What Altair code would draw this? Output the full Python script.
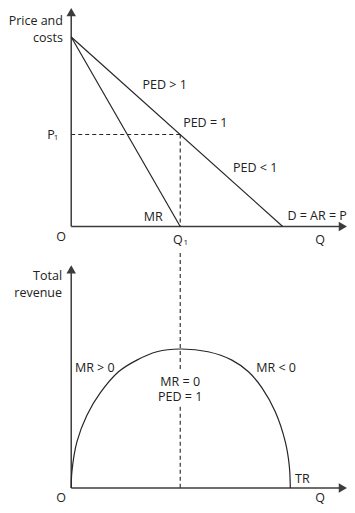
import altair as alt
import pandas as pd

# ---------------- data ----------------
# Top panel: quantity (Q) vs price and costs (P)
DEMAND_Q = [0.0, 9.7]
DEMAND_P = [10.0, 0.0]
MR_Q = [0.0, 5.0]
MR_P = [10.0, 0.0]
Q1 = 5.0
P1 = 4.85

# Bottom panel: quantity (Q) vs total revenue (TR)
TR_Q = [0.0, 0.03, 0.26, 0.72, 1.33, 2.17, 3.01, 3.93, 5.0, 6.28, 7.37, 8.13, 8.75, 9.36, 9.82, 10.0, 10.05]
TR_V = [0.0, 2.9, 8.3, 13.1, 17.1, 20.9, 23.0, 24.5, 25.0, 24.5, 23.0, 20.9, 18.0, 13.7, 8.3, 4.1, 0.0]

# Labels
TOP_LABELS = ["PED > 1", "PED = 1", "PED < 1", "MR", "D = AR = P", "O", "Q"]
TOP_LABEL_Q = [4.29, 6.15, 8.44, 3.76, 11.28, -0.46, 11.42]
TOP_LABEL_P = [7.47, 5.46, 3.09, 0.50, 0.55, -0.55, -0.71]
TOP_TITLE = ["Price and", "costs"]
TOP_TITLE_P = [10.84, 9.95]

BOT_LABELS = ["MR > 0", "MR = 0", "PED = 1", "MR < 0", "TR", "O", "Q"]
BOT_LABEL_Q = [1.08, 5.0, 5.0, 9.40, 10.60, -0.46, 11.42]
BOT_LABEL_V = [21.6, 19.06, 16.37, 21.6, 1.62, -1.80, -1.80]
BOT_TITLE = ["Total", "revenue"]
BOT_TITLE_V = [38.1, 35.07]

# ---------------- styling ----------------
FONT = "Open Sans"
FS = 12.5
TXT = "#222222"
LINE = "#262626"
AXIS = "#3c3c3c"
W, H = 339, 497

# one shared x scale; the two panels each get their own y scale spanning the view
xs = alt.Scale(domain=[-2.9, 12.65], nice=False, zero=False)
ys_top = alt.Scale(domain=[-14.7, 11.53], nice=False, zero=False)
ys_bot = alt.Scale(domain=[-3.06, 86.33], nice=False, zero=False)


def X(f="x"):
    return alt.X(f"{f}:Q", scale=xs, axis=None)


def Y(scale, f="y"):
    return alt.Y(f"{f}:Q", scale=scale, axis=None)


def rules(df, scale, **kw):
    return alt.Chart(df).mark_rule(**kw).encode(
        x=X("x"), y=Y(scale, "y"), x2="x2:Q", y2="y2:Q"
    )


def arrows(df, scale, shape):
    return alt.Chart(df).mark_point(
        shape=shape, filled=True, size=90, color=AXIS, opacity=1
    ).encode(x=X("x"), y=Y(scale, "y"))


def texts(df, scale, **kw):
    base = dict(font=FONT, fontSize=FS, color=TXT, baseline="middle")
    base.update(kw)
    return alt.Chart(df).mark_text(**base).encode(
        x=X("x"), y=Y(scale, "y"), text="t:N"
    )


# ---------------- top panel ----------------
top_axes = pd.DataFrame({"x": [0.0, 0.0], "y": [0.0, 0.0], "x2": [0.0, 12.3], "y2": [11.3, 0.0]})
top_arrow_up = pd.DataFrame({"x": [0.0], "y": [11.31]})
top_arrow_right = pd.DataFrame({"x": [12.46], "y": [0.0]})
demand = pd.DataFrame({"x": DEMAND_Q, "y": DEMAND_P})
mr = pd.DataFrame({"x": MR_Q, "y": MR_P})
top_dash = pd.DataFrame({"x": [0.0, Q1], "y": [P1, P1], "x2": [Q1, Q1], "y2": [P1, 0.0]})
top_lab = pd.DataFrame({"x": TOP_LABEL_Q, "y": TOP_LABEL_P, "t": TOP_LABELS})
top_title = pd.DataFrame({"x": [-0.38, -0.38], "y": TOP_TITLE_P, "t": TOP_TITLE})
p1_lab = pd.DataFrame({"x": [-0.93], "y": [P1], "t": ["P"]})
q1_lab = pd.DataFrame({"x": [4.89], "y": [-0.71], "t": ["Q"]})

top_layers = [
    rules(top_axes, ys_top, color=AXIS, strokeWidth=1.5),
    arrows(top_arrow_up, ys_top, "triangle-up"),
    arrows(top_arrow_right, ys_top, "triangle-right"),
    rules(top_dash, ys_top, color=LINE, strokeWidth=1.1, strokeDash=[4, 3]),
    alt.Chart(demand).mark_line(color=LINE, strokeWidth=1.2).encode(x=X(), y=Y(ys_top)),
    alt.Chart(mr).mark_line(color=LINE, strokeWidth=1.2).encode(x=X(), y=Y(ys_top)),
    texts(top_lab, ys_top, align="center"),
    texts(top_title, ys_top, align="right"),
    texts(p1_lab, ys_top, align="center"),
    texts(p1_lab.assign(t="1"), ys_top, align="center", fontSize=8, dx=5, dy=3),
    texts(q1_lab, ys_top, align="center"),
    texts(q1_lab.assign(t="1"), ys_top, align="center", fontSize=8, dx=8, dy=3),
]

# ---------------- bottom panel ----------------
bot_axes = pd.DataFrame({"x": [0.0, 0.0], "y": [0.0, 0.0], "x2": [0.0, 12.3], "y2": [39.3, 0.0]})
bot_arrow_up = pd.DataFrame({"x": [0.0], "y": [39.33]})
bot_arrow_right = pd.DataFrame({"x": [12.46], "y": [0.0]})
tr = pd.DataFrame({"x": TR_Q, "y": TR_V, "o": list(range(len(TR_Q)))})
bot_dash = pd.DataFrame({"x": [Q1, Q1], "y": [42.26, 14.6], "x2": [Q1, Q1], "y2": [21.2, 0.0]})
bot_lab = pd.DataFrame({"x": BOT_LABEL_Q, "y": BOT_LABEL_V, "t": BOT_LABELS})
bot_title = pd.DataFrame({"x": [-0.42, -0.42], "y": BOT_TITLE_V, "t": BOT_TITLE})

bot_layers = [
    rules(bot_axes, ys_bot, color=AXIS, strokeWidth=1.5),
    arrows(bot_arrow_up, ys_bot, "triangle-up"),
    arrows(bot_arrow_right, ys_bot, "triangle-right"),
    rules(bot_dash, ys_bot, color=LINE, strokeWidth=1.1, strokeDash=[4, 3]),
    alt.Chart(tr).mark_line(color=LINE, strokeWidth=1.2, interpolate="catmull-rom").encode(
        x=X(), y=Y(ys_bot), order="o:Q"
    ),
    texts(bot_lab, ys_bot, align="center"),
    texts(bot_title, ys_bot, align="right"),
]

chart = (
    alt.layer(*top_layers, *bot_layers)
    .resolve_scale(y="independent")
    .properties(width=W, height=H, padding=0, autosize=alt.AutoSizeParams(type="none"))
    .configure_view(strokeWidth=0)
)

chart.save("out.html", embed_options={"renderer": "svg", "actions": False})
